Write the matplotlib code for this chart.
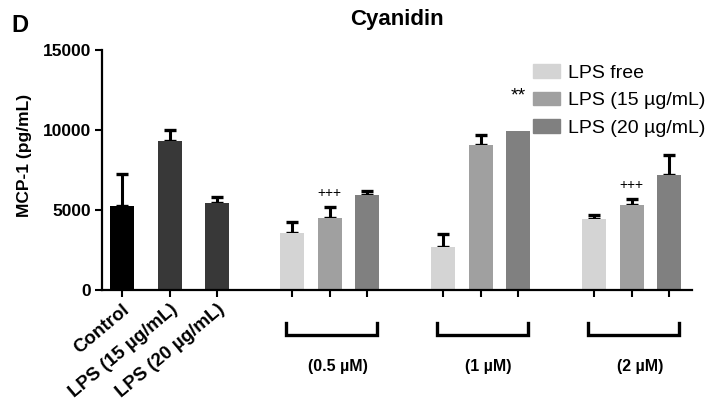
import numpy as np
import matplotlib
matplotlib.use("Agg")
import matplotlib.pyplot as plt
from matplotlib.patches import Patch

plt.rcParams['font.family'] = ['Liberation Sans', 'DejaVu Sans']

# ---------------- data ----------------
control_labels = ['Control', 'LPS (15 µg/mL)', 'LPS (20 µg/mL)']
control_values = [5250, 9310, 5460]
control_err = [2000, 690, 330]

group_labels = ['(0.5 µM)', '(1 µM)', '(2 µM)']
series_names = ['LPS free', 'LPS (15 µg/mL)', 'LPS (20 µg/mL)']
lps_free = [3580, 2670, 4440]
lps_free_err = [650, 810, 250]
lps_15 = [4520, 9060, 5290]
lps_15_err = [650, 630, 420]
lps_20 = [5920, 9960, 7170]
lps_20_err = [270, 0, 1250]

plus_marks = [(0, 1, '+++'), (2, 1, '+++')]   # (group, series, text)
star_marks = [(1, 2, '**')]

yticks = [0, 5000, 10000, 15000]

# ---------------- style/layout ----------------
control_colors = ['#000000', '#383838', '#383838']
series_colors = ['#d4d4d4', '#a0a0a0', '#808080']
bar_w = 24
ctrl_step = 47.5
grp_first = ctrl_step * 2 + 75
grp_step = 151
in_step = 37.7

fig = plt.figure(figsize=(7.1, 4.05), dpi=100)
ax = fig.add_axes([102/710, 1-290/405, 590/710, 240/405])

ctrl_x = np.arange(len(control_values)) * ctrl_step
err_kw = dict(fmt='none', ecolor='black', elinewidth=2.2, capsize=4.3, capthick=2.4, zorder=1)

ax.bar(ctrl_x, control_values, width=bar_w, color=control_colors, zorder=2)
ax.errorbar(ctrl_x, control_values, yerr=[np.zeros(3), control_err], **err_kw)

series = [(lps_free, lps_free_err), (lps_15, lps_15_err), (lps_20, lps_20_err)]
grp_x = grp_first + np.arange(len(group_labels)) * grp_step
all_x = list(ctrl_x)
for s, (vals, errs) in enumerate(series):
    xs = grp_x + s * in_step
    ax.bar(xs, vals, width=bar_w, color=series_colors[s], zorder=2)
    e = np.array(errs, dtype=float)
    mask = e > 0
    ax.errorbar(xs[mask], np.array(vals)[mask], yerr=[np.zeros(mask.sum()), e[mask]], **err_kw)
xs_groups = [grp_x[g] + s * in_step for g in range(3) for s in range(3)]
all_x += xs_groups

for g, s, txt in plus_marks:
    vals, errs = series[s]
    ax.annotate(txt, (grp_x[g] + s * in_step, vals[g] + errs[g]), xytext=(0, 5),
                textcoords='offset points', ha='center', va='bottom', fontsize=10)
for g, s, txt in star_marks:
    vals, errs = series[s]
    ax.annotate(txt, (grp_x[g] + s * in_step, vals[g] + errs[g]), xytext=(0, 19),
                textcoords='offset points', ha='center', va='bottom', fontsize=14)

ax.set_xlim(-20, 570)
ax.set_ylim(0, 15000)
ax.set_xticks(all_x)
ax.set_xticklabels(control_labels + [''] * 9, rotation=40, ha='right',
                   rotation_mode='anchor', fontsize=13.5, fontweight='bold')
ax.set_yticks(yticks)
ax.set_yticklabels([str(v) for v in yticks], fontsize=12.5, fontweight='bold')
ax.tick_params(axis='both', direction='out', length=5, width=1.5, pad=3)
for side in ['top', 'right']:
    ax.spines[side].set_visible(False)
for side in ['left', 'bottom']:
    ax.spines[side].set_linewidth(1.6)

# group brackets
trans = ax.get_xaxis_transform()
for g, lab in enumerate(group_labels):
    x0 = grp_x[g] - 6
    x1 = grp_x[g] + 2 * in_step + 10
    ax.plot([x0, x0, x1, x1], [-0.138, -0.188, -0.188, -0.138], color='black', lw=2.4,
            transform=trans, clip_on=False, solid_joinstyle='miter')
    ax.text(grp_x[g] + in_step + 8, -0.32, lab, transform=trans, ha='center', va='center',
            fontsize=11.5, fontweight='bold')

handles = [Patch(color=c) for c in series_colors]
fig.legend(handles, series_names, loc='upper left', bbox_to_anchor=(533/710, 1-64/405),
           frameon=False, fontsize=14, borderpad=0, borderaxespad=0, handlelength=1.4,
           handleheight=0.7, handletextpad=0.4, labelspacing=0.52)

fig.text(25/710, 1-155/405, 'MCP-1 (pg/mL)', rotation=90, ha='center', va='center',
         fontsize=12.5, fontweight='bold')
fig.text(397/710, 1-20/405, 'Cyanidin', ha='center', va='center', fontsize=16, fontweight='bold')
fig.text(20/710, 1-25/405, 'D', ha='center', va='center', fontsize=17, fontweight='bold')

fig.savefig('out.png', dpi=100)
